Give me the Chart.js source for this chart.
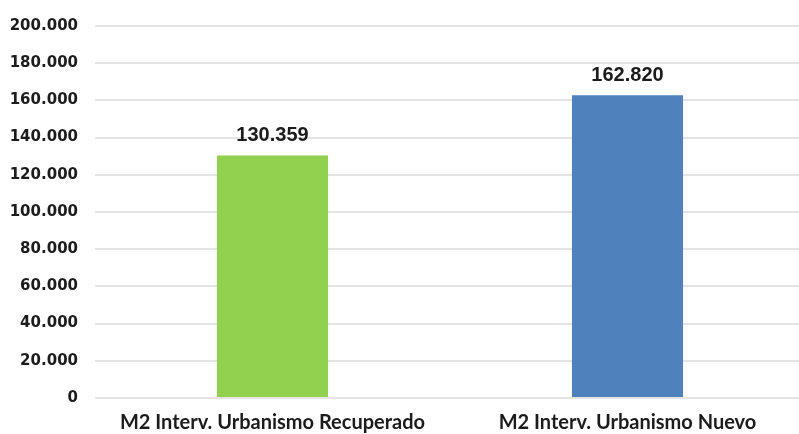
<!DOCTYPE html>
<html>
<head>
<meta charset="utf-8">
<script src="https://cdn.jsdelivr.net/npm/chart.js@4/dist/chart.umd.min.js"></script>
<style>
  html, body { margin: 0; padding: 0; background: #ffffff; overflow: hidden; }
  #wrap { position: relative; width: 805px; height: 434px; }
</style>
</head>
<body>
<div id="wrap"><canvas id="chart"></canvas></div>
<script>
// Superficie intervenida (m2) por tipo de urbanismo
const categories = ['M2 Interv. Urbanismo Recuperado', 'M2 Interv. Urbanismo Nuevo'];
const areaValues = [130359, 162820];
const barColors = ['#92d050', '#4f81bd'];
const yTicks = [0, 20000, 40000, 60000, 80000, 100000, 120000, 140000, 160000, 180000, 200000];

// Thousands separated with a dot
function fmt(v) {
  return String(Math.round(v)).replace(/\B(?=(\d{3})+(?!\d))/g, '.');
}

// Value written above each bar
const valueLabels = {
  id: 'valueLabels',
  afterDatasetsDraw(chart) {
    const ctx = chart.ctx;
    const meta = chart.getDatasetMeta(0);
    ctx.save();
    ctx.font = 'bold 20px "Liberation Sans", Arial, sans-serif';
    ctx.fillStyle = '#1c1c1c';
    ctx.textAlign = 'center';
    ctx.textBaseline = 'bottom';
    meta.data.forEach((bar, i) => {
      ctx.fillText(fmt(chart.data.datasets[0].data[i]), bar.x, bar.y - 10);
    });
    ctx.restore();
  }
};

new Chart(document.getElementById('chart'), {
  type: 'bar',
  data: {
    labels: categories,
    datasets: [{
      data: areaValues,
      backgroundColor: barColors,
      borderWidth: 0,
      categoryPercentage: 1.0,
      barPercentage: 0.313
    }]
  },
  options: {
    responsive: true,
    maintainAspectRatio: false,
    animation: false,
    layout: { padding: { top: 15, left: 0, right: 0, bottom: 0 } },
    plugins: {
      legend: { display: false },
      tooltip: { enabled: false }
    },
    scales: {
      x: {
        grid: { display: false, drawTicks: false },
        border: { display: false },
        ticks: {
          color: '#1c1c1c',
          font: { family: 'Lato, sans-serif', weight: 'bold', size: 20 },
          padding: 13,
          maxRotation: 0
        },
        afterFit(scale) { scale.height = 36; }
      },
      y: {
        min: 0,
        max: 200000,
        afterBuildTicks(scale) { scale.ticks = yTicks.map(v => ({ value: v })); },
        grid: { color: '#e4e4e4', lineWidth: 2, drawTicks: false },
        border: { display: false },
        ticks: {
          color: '#1c1c1c',
          font: { family: '"DejaVu Sans", sans-serif', weight: 'bold', size: 15 },
          padding: 17,
          callback: v => fmt(v)
        },
        afterFit(scale) { scale.width = 95; }
      }
    }
  },
  plugins: [valueLabels]
});
</script>
</body>
</html>
